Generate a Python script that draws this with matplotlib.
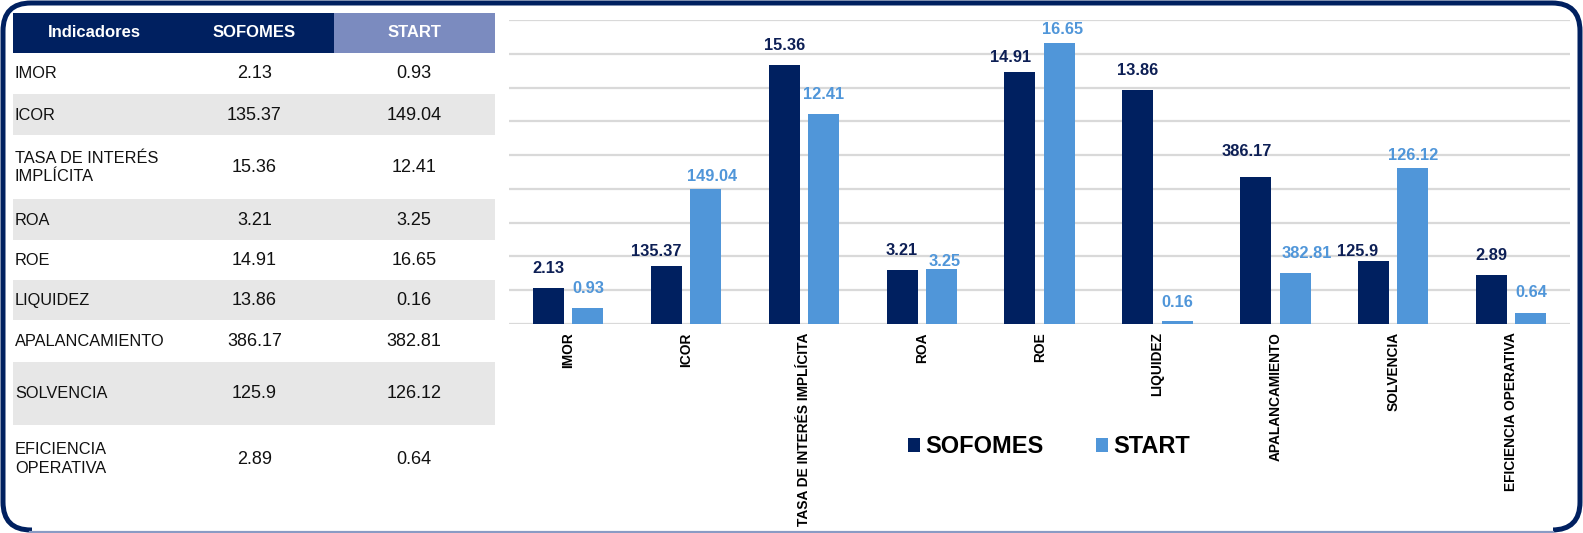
import matplotlib

matplotlib.use("Agg")
import matplotlib.pyplot as plt
from matplotlib.patches import FancyBboxPatch, Rectangle

plt.rcParams["font.family"] = ["Liberation Sans", "DejaVu Sans"]

# Indicators as shown in the table and on the chart axis.
row_labels = ["IMOR", "ICOR", "TASA DE INTERÉS\nIMPLÍCITA", "ROA", "ROE", "LIQUIDEZ",
              "APALANCAMIENTO", "SOLVENCIA", "EFICIENCIA\nOPERATIVA"]
categories = ["IMOR", "ICOR", "TASA DE INTERÉS IMPLÍCITA", "ROA", "ROE", "LIQUIDEZ",
              "APALANCAMIENTO", "SOLVENCIA", "EFICIENCIA OPERATIVA"]
sofomes_values = ["2.13", "135.37", "15.36", "3.21", "14.91", "13.86", "386.17", "125.9", "2.89"]
start_values = ["0.93", "149.04", "12.41", "3.25", "16.65", "0.16", "382.81", "126.12", "0.64"]

# Bar heights as plotted in the source chart (the large ratios were rescaled there).
sofomes_plot = [2.13, 3.43, 15.36, 3.21, 14.91, 13.86, 8.70, 3.73, 2.89]
start_plot = [0.93, 8.00, 12.41, 3.25, 16.65, 0.16, 3.00, 9.22, 0.64]

NAVY = "#002060"
LIGHT = "#5096d9"
HEADER_START = "#7b8bbf"
GRAY_ROW = "#e7e7e7"

W, H = 1583, 533
fig = plt.figure(figsize=(W / 100, H / 100), dpi=100)

# Background axes in pixel coordinates: frame and table.
bg = fig.add_axes([0, 0, 1, 1])
bg.set_xlim(0, W)
bg.set_ylim(H, 0)
bg.axis("off")

bg.add_patch(FancyBboxPatch((3, 3), W - 6, H - 6,
                            boxstyle="round,pad=0,rounding_size=28",
                            facecolor="white", edgecolor=NAVY, linewidth=3.6, zorder=0))
bg.add_patch(Rectangle((32, H - 9), W - 62, 9, facecolor="white", edgecolor="none", zorder=1))
bg.plot([30, W - 30], [H - 1.5, H - 1.5], color="#8a9bc4", linewidth=1.6, zorder=2)

# Table layout.
x_left, x_split2, x_right = 13, 334, 495
header_top, header_bot = 12.5, 52.7
row_edges = [52.7, 94.3, 135, 199.3, 240, 280, 320.3, 361.7, 425.3, 492]
col1_c = 254.3
col2_c = 414

bg.add_patch(Rectangle((x_left, header_top), x_split2 - x_left, header_bot - header_top,
                       facecolor=NAVY, edgecolor="none", zorder=2))
bg.add_patch(Rectangle((x_split2, header_top), x_right - x_split2, header_bot - header_top,
                       facecolor=HEADER_START, edgecolor="none", zorder=2))
hy = (header_top + header_bot) / 2
for x, t in [(94, "Indicadores"), (col1_c, "SOFOMES"), (col2_c, "START")]:
    bg.text(x, hy, t, ha="center", va="center", color="white", fontsize=12,
            fontweight="bold", zorder=3)

for i, (lab, v1, v2) in enumerate(zip(row_labels, sofomes_values, start_values)):
    top, bot = row_edges[i], row_edges[i + 1]
    if i % 2 == 1:
        bg.add_patch(Rectangle((x_left, top), x_right - x_left, bot - top,
                               facecolor=GRAY_ROW, edgecolor="none", zorder=2))
    yc = (top + bot) / 2 + 0.5
    bg.text(15, yc, lab, ha="left", va="center", fontsize=11.8, color="#111111",
            linespacing=1.3, zorder=3)
    bg.text(col1_c, yc, v1, ha="center", va="center", fontsize=13, color="#111111", zorder=3)
    bg.text(col2_c, yc, v2, ha="center", va="center", fontsize=13, color="#111111", zorder=3)

# Bar chart.
ax = fig.add_axes([509.3 / W, 1 - 324 / H, (1570 - 509.3) / W, (324 - 20) / H])
ax.patch.set_alpha(0)
x = list(range(len(categories)))
bw = 0.263
off = 0.1675
b1 = ax.bar([i - off for i in x], sofomes_plot, width=bw, color=NAVY, label="SOFOMES", zorder=3)
b2 = ax.bar([i + off for i in x], start_plot, width=bw, color=LIGHT, label="START", zorder=3)

ax.set_xlim(-0.5, len(categories) - 0.5)
ax.set_ylim(0, 18)
ax.set_yticks(range(0, 19, 2))
ax.yaxis.grid(True, color="#d9d9d9", linewidth=1.6, zorder=0)
ax.tick_params(axis="y", left=False, labelleft=False)
ax.tick_params(axis="x", length=0, pad=6)
for s in ax.spines.values():
    s.set_visible(False)
ax.set_xticks(x)
ax.set_xticklabels(categories, rotation=90, fontsize=9.9, fontweight="bold", va="top")

# Label nudges in pixels (dx, gap above bar), matching the hand-placed labels.
s_nudge = [(0, 15.3), (-10, 10), (0, 15), (0, 15), (-9.5, 9.7), (0, 15), (-8.7, 21.3), (-15.5, 5.3), (0, 15.3)]
t_nudge = [(0, 15), (6, 8), (0, 15.7), (3, 2.7), (3, 9.3), (0, 14.7), (11.5, 15), (0, 8.3), (0, 16)]
pt = 72 / 100
for bars, labels, nudges, color in [(b1, sofomes_values, s_nudge, "#0d1f55"),
                                   (b2, start_values, t_nudge, LIGHT)]:
    for rect, lab, (dx, dy) in zip(bars, labels, nudges):
        ax.annotate(lab, (rect.get_x() + rect.get_width() / 2, rect.get_height()),
                    xytext=(dx * pt, dy * pt), textcoords="offset points",
                    ha="center", va="baseline", fontsize=11.8, fontweight="bold",
                    color=color, zorder=4)

leg = fig.legend(handles=[b1, b2], loc="center", bbox_to_anchor=(1049 / W, 1 - 446.5 / H),
                 ncol=2, frameon=False, handlelength=0.54, handleheight=0.54,
                 handletextpad=0.22, columnspacing=2.2, borderpad=0,
                 prop={"size": 17, "weight": "bold"})

fig.savefig("out.png", dpi=100)
